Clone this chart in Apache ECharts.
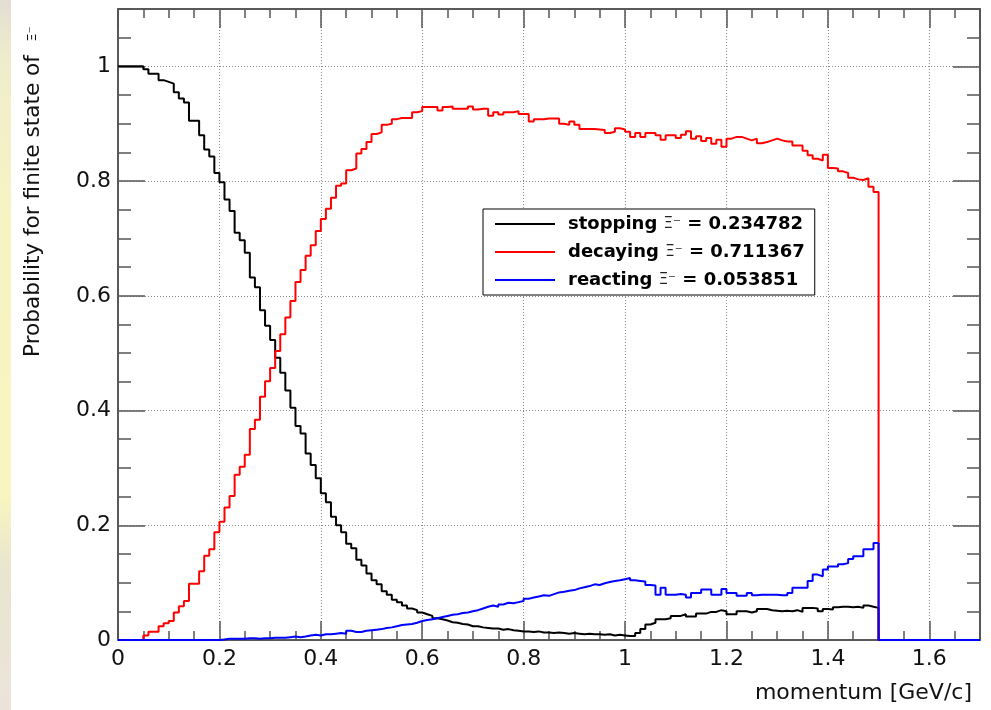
<!DOCTYPE html>
<html>
<head>
<meta charset="utf-8">
<script src="https://cdn.jsdelivr.net/npm/echarts@6/dist/echarts.min.js"></script>
<style>
html,body{margin:0;padding:0;background:#fff;}
#chart{width:991px;height:710px;}
</style>
</head>
<body>
<div id="chart"></div>
<script>
// Histogram binning (0.01 GeV/c bins, filled from 0 to 1.5, axis range 0 to 1.7)
const binWidth = 0.01;
const histRange = [0, 1.7];

const xTickLabels = ['0', '0.2', '0.4', '0.6', '0.8', '1', '1.2', '1.4', '1.6'];
const yTickLabels = ['0', '0.2', '0.4', '0.6', '0.8', '1'];

const seriesNames = [
  'stopping Ξ⁻ = 0.234782',
  'decaying Ξ⁻ = 0.711367',
  'reacting Ξ⁻ = 0.053851'
];

const stopping = [
  1.000, 1.000, 1.000, 1.000, 1.000, 0.995, 0.987, 0.987, 0.976, 0.973,
  0.970, 0.955, 0.944, 0.937, 0.905, 0.905, 0.880, 0.855, 0.843, 0.814,
  0.798, 0.768, 0.748, 0.710, 0.697, 0.675, 0.632, 0.615, 0.575, 0.548,
  0.523, 0.492, 0.466, 0.435, 0.405, 0.373, 0.360, 0.325, 0.305, 0.282,
  0.256, 0.240, 0.215, 0.200, 0.188, 0.168, 0.160, 0.140, 0.130, 0.116,
  0.104, 0.097, 0.085, 0.079, 0.070, 0.066, 0.060, 0.055, 0.052, 0.048,
  0.045, 0.042, 0.038, 0.036, 0.034, 0.031, 0.030, 0.028, 0.027, 0.024,
  0.024, 0.022, 0.021, 0.020, 0.020, 0.018, 0.019, 0.017, 0.016, 0.015,
  0.015, 0.014, 0.015, 0.013, 0.013, 0.012, 0.013, 0.012, 0.011, 0.012,
  0.011, 0.010, 0.011, 0.010, 0.010, 0.009, 0.010, 0.008, 0.009, 0.008,
  0.007, 0.007, 0.012, 0.019, 0.027, 0.030, 0.036, 0.036, 0.038, 0.042,
  0.042, 0.045, 0.041, 0.041, 0.046, 0.046, 0.049, 0.049, 0.052, 0.050,
  0.045, 0.045, 0.050, 0.050, 0.048, 0.050, 0.054, 0.054, 0.052, 0.051,
  0.050, 0.051, 0.050, 0.052, 0.049, 0.056, 0.056, 0.055, 0.050, 0.054,
  0.053, 0.057, 0.058, 0.058, 0.057, 0.058, 0.056, 0.060, 0.058, 0.056
];

const decaying = [
  0.000, 0.000, 0.000, 0.000, 0.000, 0.008, 0.0145, 0.0145, 0.024, 0.029,
  0.033, 0.048, 0.059, 0.068, 0.098, 0.098, 0.120, 0.147, 0.158, 0.188,
  0.206, 0.231, 0.251, 0.288, 0.302, 0.323, 0.368, 0.384, 0.424, 0.451,
  0.474, 0.504, 0.533, 0.562, 0.591, 0.624, 0.645, 0.670, 0.688, 0.713,
  0.734, 0.752, 0.771, 0.792, 0.796, 0.819, 0.822, 0.848, 0.856, 0.868,
  0.882, 0.885, 0.898, 0.900, 0.908, 0.910, 0.910, 0.910, 0.920, 0.922,
  0.929, 0.929, 0.929, 0.923, 0.929, 0.930, 0.926, 0.926, 0.926, 0.930,
  0.925, 0.926, 0.926, 0.914, 0.920, 0.916, 0.920, 0.920, 0.922, 0.917,
  0.917, 0.904, 0.908, 0.908, 0.909, 0.909, 0.909, 0.900, 0.898, 0.904,
  0.898, 0.891, 0.891, 0.891, 0.890, 0.889, 0.884, 0.886, 0.892, 0.890,
  0.886, 0.877, 0.884, 0.877, 0.884, 0.884, 0.880, 0.872, 0.880, 0.880,
  0.875, 0.881, 0.887, 0.874, 0.878, 0.870, 0.875, 0.865, 0.872, 0.860,
  0.874, 0.877, 0.877, 0.874, 0.871, 0.874, 0.866, 0.868, 0.871, 0.874,
  0.871, 0.869, 0.869, 0.862, 0.862, 0.853, 0.845, 0.839, 0.836, 0.846,
  0.823, 0.822, 0.817, 0.814, 0.806, 0.803, 0.802, 0.805, 0.790, 0.781
];

const reacting = [
  0.000, 0.000, 0.000, 0.000, 0.000, 0.000, 0.000, 0.000, 0.000, 0.000,
  0.000, 0.000, 0.000, 0.000, 0.000, 0.000, 0.000, 0.000, 0.000, 0.000,
  0.001, 0.002, 0.002, 0.002, 0.002, 0.003, 0.003, 0.002, 0.003, 0.003,
  0.004, 0.004, 0.004, 0.005, 0.006, 0.005, 0.006, 0.008, 0.009, 0.008,
  0.010, 0.010, 0.011, 0.012, 0.011, 0.016, 0.014, 0.014, 0.016, 0.017,
  0.018, 0.019, 0.021, 0.022, 0.024, 0.026, 0.027, 0.028, 0.030, 0.033,
  0.035, 0.036, 0.038, 0.040, 0.042, 0.044, 0.045, 0.047, 0.048, 0.050,
  0.052, 0.055, 0.058, 0.060, 0.058, 0.062, 0.065, 0.064, 0.066, 0.068,
  0.072, 0.074, 0.076, 0.078, 0.077, 0.080, 0.083, 0.084, 0.086, 0.087,
  0.090, 0.092, 0.094, 0.097, 0.096, 0.099, 0.101, 0.103, 0.104, 0.106,
  0.108, 0.104, 0.103, 0.102, 0.096, 0.095, 0.079, 0.091, 0.079, 0.079,
  0.080, 0.079, 0.074, 0.082, 0.082, 0.088, 0.088, 0.079, 0.079, 0.089,
  0.082, 0.082, 0.077, 0.077, 0.082, 0.078, 0.079, 0.079, 0.079, 0.079,
  0.078, 0.078, 0.082, 0.091, 0.091, 0.091, 0.103, 0.114, 0.111, 0.123,
  0.128, 0.128, 0.132, 0.134, 0.141, 0.146, 0.146, 0.158, 0.158, 0.169
];

// Convert bin contents into step-line points (left edge of each bin), empty bins to the range end
function histPoints(vals) {
  const pts = [];
  for (let i = 0; i < vals.length; i++) {
    pts.push([+(histRange[0] + i * binWidth).toFixed(4), vals[i]]);
  }
  const lastEdge = +(histRange[0] + vals.length * binWidth).toFixed(4);
  pts.push([lastEdge, 0]);
  pts.push([histRange[1], 0]);
  return pts;
}

const FONT = '"DejaVu Sans", "Liberation Sans", sans-serif';
const tickColor = '#555';
const gridLine = { show: true, lineStyle: { color: '#8a8a8a', type: [1, 2], width: 1 } };

function xAx(pos, interval, len, withLabels) {
  return {
    type: 'value', position: pos, min: 0, max: 1.7, interval: interval,
    axisLine: { show: true, onZero: false, lineStyle: { color: tickColor, width: 1.5 } },
    axisTick: { show: true, inside: true, length: len, lineStyle: { color: tickColor, width: 1.5 } },
    axisLabel: withLabels ? {
      show: true, margin: 8, fontFamily: FONT, fontSize: 22, color: '#111',
      showMaxLabel: false,
      formatter: function (v) {
        const idx = Math.round(v / 0.2);
        return Math.abs(v - idx * 0.2) < 1e-6 ? xTickLabels[idx] : '';
      }
    } : { show: false },
    splitLine: withLabels ? gridLine : { show: false }
  };
}
function yAx(pos, interval, len, withLabels) {
  return {
    type: 'value', position: pos, min: 0, max: 1.1, interval: interval,
    axisLine: { show: true, onZero: false, lineStyle: { color: tickColor, width: 1.5 } },
    axisTick: { show: true, inside: true, length: len, lineStyle: { color: tickColor, width: 1.5 } },
    axisLabel: withLabels ? {
      show: true, margin: 7, fontFamily: FONT, fontSize: 22, color: '#111',
      showMaxLabel: false,
      formatter: function (v) {
        const idx = Math.round(v / 0.2);
        return Math.abs(v - idx * 0.2) < 1e-6 && idx < yTickLabels.length ? yTickLabels[idx] : '';
      }
    } : { show: false },
    splitLine: withLabels ? gridLine : { show: false }
  };
}

const colors = ['#000000', '#ff0000', '#0000ff'];
const allVals = [stopping, decaying, reacting];

const chart = echarts.init(document.getElementById('chart'), null, { renderer: 'canvas' });
chart.setOption({
  animation: false,
  backgroundColor: '#ffffff',
  grid: { left: 118, right: 11, top: 9, bottom: 70, show: true, borderColor: '#444', borderWidth: 1, backgroundColor: 'transparent' },
  xAxis: [
    xAx('bottom', 0.05, 9, false),
    xAx('bottom', 0.2, 19, true),
    xAx('top', 0.05, 9, false),
    xAx('top', 0.2, 19, false)
  ],
  yAxis: [
    yAx('left', 0.05, 13, false),
    yAx('left', 0.2, 27, true),
    yAx('right', 0.05, 13, false),
    yAx('right', 0.2, 27, false)
  ],
  legend: {
    orient: 'vertical',
    left: 483, top: 209,
    padding: [6, 10, 6, 12],
    itemGap: 10,
    itemWidth: 60, itemHeight: 2,
    icon: 'rect',
    backgroundColor: '#ffffff',
    borderColor: '#000', borderWidth: 1,
    data: seriesNames,
    textStyle: {
      fontFamily: FONT, fontSize: 18, fontWeight: 'bold', color: '#000',
      padding: [0, 0, 0, 8],
      rich: {
        x: { fontFamily: FONT, fontSize: 15, fontWeight: 'normal', color: '#222' }
      }
    },
    formatter: function (name) { return name.replace('Ξ⁻', '{x|Ξ⁻}'); }
  },
  series: seriesNames.map(function (n, k) {
    return {
      name: n, type: 'line', step: 'end',
      xAxisIndex: 0, yAxisIndex: 0,
      data: histPoints(allVals[k]),
      symbol: 'none', showSymbol: false, clip: false,
      color: colors[k],
      itemStyle: { color: colors[k] },
      lineStyle: { color: colors[k], width: 2 },
      z: 3 + k
    };
  }),
  graphic: [
    {
      type: 'rect', left: 0, top: 0, z: -10,
      shape: { width: 11, height: 710 },
      style: {
        fill: new echarts.graphic.LinearGradient(0, 0, 0, 1, [
          { offset: 0, color: '#e3ddd3' },
          { offset: 0.08, color: '#efeccc' },
          { offset: 0.3, color: '#f7f4c4' },
          { offset: 0.7, color: '#f8f5c0' },
          { offset: 0.8, color: '#e9e5cf' },
          { offset: 1, color: '#ebe3da' }
        ])
      }
    },
    {
      type: 'text', x: 33, y: 357, rotation: Math.PI / 2, z: 10,
      style: {
        text: 'Probability for finite state of  {x|Ξ⁻}',
        font: '21.6px ' + FONT,
        fill: '#111',
        align: 'left', verticalAlign: 'middle',
        rich: { x: { fontFamily: FONT, fontSize: 13, fill: '#111' } }
      }
    },
    {
      type: 'text', x: 972, y: 693, z: 10,
      style: {
        text: 'momentum [GeV/c]',
        font: '22px ' + FONT,
        fill: '#111',
        align: 'right', verticalAlign: 'middle'
      }
    }
  ]
});
</script>
</body>
</html>
